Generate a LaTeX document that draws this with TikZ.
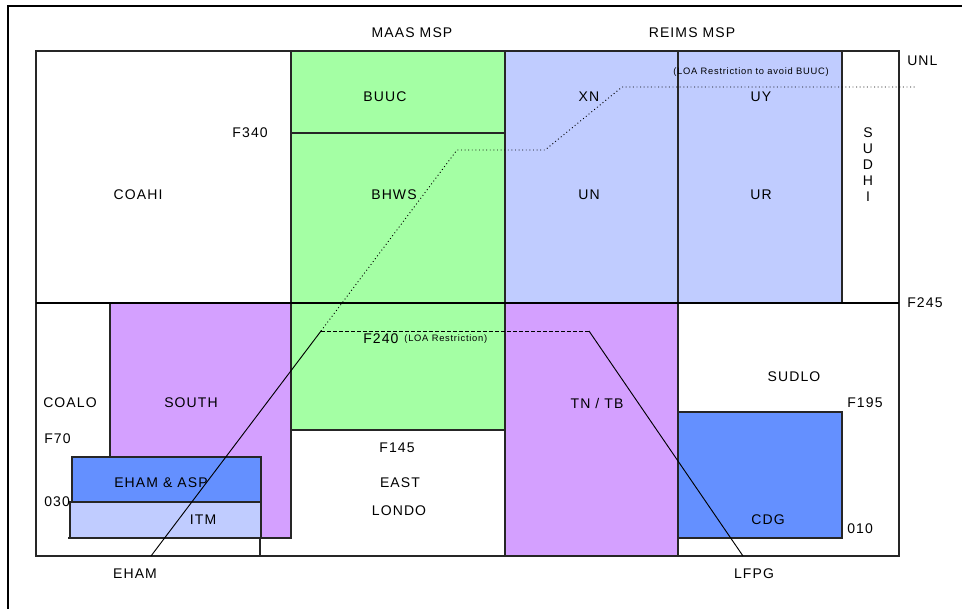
\documentclass[tikz,border=0pt]{standalone}
\usepackage{fontspec}
\setmainfont{Liberation Sans}[LetterSpace=8]
\usetikzlibrary{positioning}
\definecolor{sgreen}{RGB}{164,255,164}
\definecolor{sblue}{RGB}{192,204,255}
\definecolor{slilac}{RGB}{212,160,255}
\definecolor{sdeep}{RGB}{100,144,255}

\begin{document}
\begin{tikzpicture}[x=0.75pt,y=-0.75pt,font=\fontsize{10.5}{12}\selectfont,
  sect/.style={draw=black!85,line width=0.8pt},
  lbl/.style={inner sep=0pt},
  note/.style={inner sep=0pt,font=\fontsize{7}{8}\selectfont},
  route/.style={line width=0.7pt}]
  \useasboundingbox (0,0) rectangle (962,608);
  \draw[line width=1.8pt] (8,640) -- (8,6) -- (990,6);
  % upper sectors
  \draw[sect,fill=white] (36,51) rectangle (291,303);
  \draw[sect,fill=sgreen] (291,51) rectangle (505,133);
  \draw[sect,fill=sblue] (505,51) rectangle (678,303);
  \draw[sect,fill=sblue] (678,51) rectangle (842,303);
  \draw[sect] (842,51) rectangle (899,303);
  % lower sectors
  \draw[sect] (36,303) rectangle (899,556);
  \draw[sect,fill=sgreen] (291,133) rectangle (505,430);
  \draw[sect,fill=slilac] (110,303) rectangle (291,538);
  \draw[sect,fill=slilac] (505,303) rectangle (678,556);
  \draw[sect,fill=sdeep] (678,412) rectangle (842,538);
  \draw[sect,fill=sdeep] (72,457) rectangle (261,502);
  \draw[sect,fill=sblue] (70,502) rectangle (261,538);
  \draw[sect] (68,538) -- (261,538);
  \draw[sect] (260,538) -- (260,556);
  \draw[line width=1.8pt] (36,303) -- (899,303);
  % labels
  \node[lbl] (maas) at (412,33) {MAAS MSP};
  \node[lbl] (reims) at (692,33) {REIMS MSP};
  \node[lbl] (buuc) at (385,97) {BUUC};
  \node[lbl,anchor=east] (f340) at (268,133) {F340};
  \node[lbl] (coahi) at (138,195) {COAHI};
  \node[lbl] (bhws) at (394,195) {BHWS};
  \node[lbl] (xn) at (589,97) {XN};
  \node[lbl] (uy) at (761,97) {UY};
  \node[lbl] (un) at (589,195) {UN};
  \node[lbl] (ur) at (761,195) {UR};
  \node[lbl,align=center,font=\fontsize{10.5}{12}\selectfont] (sudhi) at (868,165) {S\\U\\D\\H\\I};
  \node[note] (avoid) at (751,72) {(LOA Restriction to avoid BUUC)};
  \node[lbl,anchor=west] (unl) at (907,61) {UNL};
  \node[lbl,anchor=west] (f245) at (907,303) {F245};
  \node[lbl,anchor=west] (f240) at (363,339) {F240};
  \node[note,right=4pt of f240.east,anchor=west] (loa) {(LOA Restriction)};
  \node[lbl] (coalo) at (70,403) {COALO};
  \node[lbl] (south) at (191,403) {SOUTH};
  \node[lbl,anchor=west] (f70) at (44,439) {F70};
  \node[lbl] (ehamasp) at (161,483) {EHAM \& ASP};
  \node[lbl,anchor=west] (r030) at (44,502) {030};
  \node[lbl] (itm) at (203,520) {ITM};
  \node[lbl] (eham) at (135,574) {EHAM};
  \node[lbl] (f145) at (397,448) {F145};
  \node[lbl] (east) at (400,483) {EAST};
  \node[lbl] (londo) at (399,511) {LONDO};
  \node[lbl] (tntb) at (597,403) {TN / TB};
  \node[lbl] (sudlo) at (794,377) {SUDLO};
  \node[lbl,anchor=west] (f195) at (847,403) {F195};
  \node[lbl] (cdg) at (768,520) {CDG};
  \node[lbl,anchor=west] (r010) at (847,529) {010};
  \node[lbl] (lfpg) at (754,574) {LFPG};
  % profiles
  \coordinate (dep) at (151,556);
  \coordinate (lvl) at (321,331);
  \coordinate (lve) at (589,331);
  \coordinate (arr) at (743,556);
  \coordinate (c1) at (457,150);
  \coordinate (c2) at (545,150);
  \coordinate (c3) at (622,87);
  \coordinate (c4) at (917,87);
  \draw[route] (dep) -- (lvl);
  \draw[route,dash pattern=on 3pt off 1.5pt] (lvl) -- (lve);
  \draw[route] (lve) -- (arr);
  \draw[route,dotted] (lvl) -- (c1) -- (c2) -- (c3) -- (c4);
\end{tikzpicture}
\end{document}
